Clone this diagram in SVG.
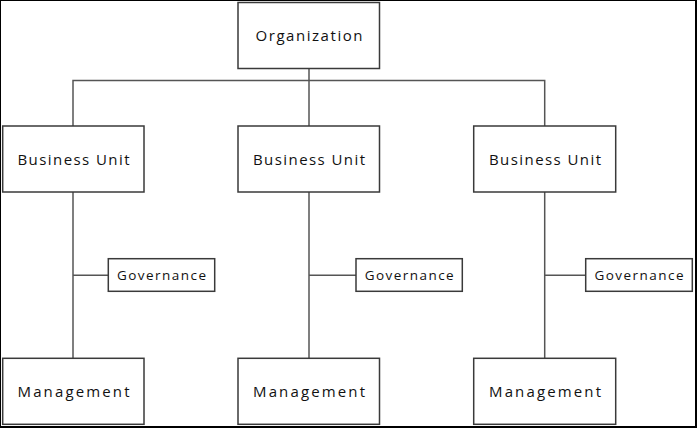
<svg xmlns="http://www.w3.org/2000/svg" width="697" height="428" viewBox="0 0 697 428">
<style>
.box{fill:#fff;stroke:#3a3a3a;stroke-width:1.5}
.t{font-family:"Open Sans","Liberation Sans",Arial,sans-serif;font-size:15px;fill:#111;text-anchor:middle}
.g{font-size:13.5px}
.c{fill:none;stroke:#555;stroke-width:1.5}
</style>
<rect x="0" y="0" width="696" height="427" fill="#fff" stroke="#000" stroke-width="2"/>
<g id="connectors">
<path class="c" d="M309 68.5V80.5M73 126V80.5H544.7V126M309 80.5V126"/>
<path class="c" d="M73 192V358.3M73 275.3H108.3"/>
<path class="c" d="M309 192V358.3M309 275.3H356"/>
<path class="c" d="M544.7 192V358.3M544.7 275.3H585.7"/>
</g>
<g id="organization"><rect class="box" x="238" y="2.5" width="141.5" height="66"/><text class="t" x="309" y="40.5" textLength="107" lengthAdjust="spacing">Organization</text></g>
<g id="bu1"><rect class="box" x="2.7" y="126" width="141.3" height="66"/><text class="t" x="73.5" y="164.5" textLength="112" lengthAdjust="spacing">Business Unit</text></g>
<g id="bu2"><rect class="box" x="238" y="126" width="141.5" height="66"/><text class="t" x="309" y="164.5" textLength="112" lengthAdjust="spacing">Business Unit</text></g>
<g id="bu3"><rect class="box" x="473.7" y="126" width="142" height="66"/><text class="t" x="545" y="164.5" textLength="112" lengthAdjust="spacing">Business Unit</text></g>
<g id="gov1"><rect class="box" x="108.3" y="258.7" width="106.4" height="32.6"/><text class="t g" x="161.5" y="280" textLength="89" lengthAdjust="spacing">Governance</text></g>
<g id="gov2"><rect class="box" x="356" y="258.7" width="106.3" height="32.6"/><text class="t g" x="409.2" y="280" textLength="89" lengthAdjust="spacing">Governance</text></g>
<g id="gov3"><rect class="box" x="585.7" y="258.7" width="106.6" height="32.6"/><text class="t g" x="639" y="280" textLength="89" lengthAdjust="spacing">Governance</text></g>
<g id="mgmt1"><rect class="box" x="2.7" y="358.3" width="141.3" height="66"/><text class="t" x="73.5" y="396.8" textLength="112" lengthAdjust="spacing">Management</text></g>
<g id="mgmt2"><rect class="box" x="238" y="358.3" width="141.5" height="66"/><text class="t" x="309" y="396.8" textLength="112" lengthAdjust="spacing">Management</text></g>
<g id="mgmt3"><rect class="box" x="473.7" y="358.3" width="142" height="66"/><text class="t" x="545" y="396.8" textLength="112" lengthAdjust="spacing">Management</text></g>
</svg>
